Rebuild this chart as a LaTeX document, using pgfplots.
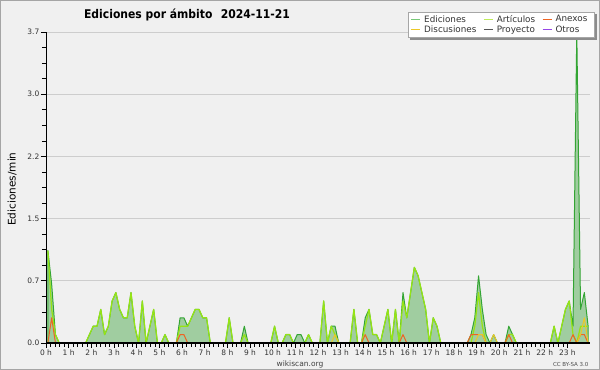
\documentclass[border=0pt]{standalone}
\usepackage{fontspec}
\setmainfont{DejaVu Sans}
\newfontfamily\titlefont{DejaVu Sans}[FakeStretch=0.9]
\usepackage{pgfplots}
\pgfplotsset{compat=1.18}
\usepackage{pgfplotstable}

\definecolor{bgc}{RGB}{240,240,240}
\definecolor{bordc}{RGB}{165,165,165}
\definecolor{gridc}{RGB}{205,205,205}
\definecolor{edline}{RGB}{51,165,51}
\definecolor{edleg}{RGB}{120,200,120}
\definecolor{edfill}{RGB}{160,205,160}
\definecolor{artc}{RGB}{150,228,20}
\definecolor{artleg}{RGB}{190,235,90}
\definecolor{anexc}{RGB}{238,100,35}
\definecolor{discc}{RGB}{236,200,40}
\definecolor{proyc}{RGB}{85,85,85}
\definecolor{otrosc}{RGB}{150,70,230}

\pgfplotstableread{
t E A N D
5 1.1 1.1 0 0
15 0.7 0.4 0.3 0
25 0.1 0.1 0 0
35 0 0 0 0
45 0 0 0 0
55 0 0 0 0
65 0 0 0 0
75 0 0 0 0
85 0 0 0 0
95 0 0 0 0
105 0 0 0 0
115 0.1 0.1 0 0
125 0.2 0.2 0 0
135 0.2 0.2 0 0
145 0.4 0.4 0 0
155 0.1 0.1 0 0
165 0.2 0.2 0 0
175 0.5 0.5 0 0
185 0.6 0.6 0 0
195 0.4 0.4 0 0
205 0.3 0.3 0 0
215 0.3 0.3 0 0
225 0.6 0.6 0 0
235 0.2 0.2 0 0
245 0 0 0 0
255 0.5 0.5 0 0
265 0 0 0 0
275 0.2 0.2 0 0
285 0.4 0.4 0 0
295 0 0 0 0
305 0 0 0 0
315 0.1 0.1 0 0
325 0 0 0 0
335 0 0 0 0
345 0 0 0 0
355 0.3 0.2 0.1 0
365 0.3 0.2 0.1 0
375 0.2 0.2 0 0
385 0.3 0.3 0 0
395 0.4 0.4 0 0
405 0.4 0.4 0 0
415 0.3 0.3 0 0
425 0.3 0.3 0 0
435 0 0 0 0
445 0 0 0 0
455 0 0 0 0
465 0 0 0 0
475 0 0 0 0
485 0.3 0.3 0 0
495 0 0 0 0
505 0 0 0 0
515 0 0 0 0
525 0.2 0.1 0 0
535 0 0 0 0
545 0 0 0 0
555 0 0 0 0
565 0 0 0 0
575 0 0 0 0
585 0 0 0 0
595 0 0 0 0
605 0.2 0.2 0 0
615 0 0 0 0
625 0 0 0 0
635 0.1 0.1 0 0
645 0.1 0.1 0 0
655 0 0 0 0
665 0.1 0 0 0
675 0.1 0 0 0
685 0 0 0 0
695 0.1 0.1 0 0
705 0 0 0 0
715 0 0 0 0
725 0 0 0 0
735 0.5 0.5 0 0
745 0 0 0 0
755 0.2 0.2 0 0
765 0.2 0.1 0 0.1
775 0 0 0 0
785 0 0 0 0
795 0 0 0 0
805 0 0 0 0
815 0.4 0.4 0 0
825 0 0 0 0
835 0 0 0 0
845 0.3 0.2 0.1 0
855 0.4 0.4 0 0
865 0.1 0.1 0 0
875 0.1 0.1 0 0
885 0 0 0 0
895 0.2 0.2 0 0
905 0.4 0.4 0 0
915 0 0 0 0
925 0.4 0.4 0 0
935 0 0 0 0
945 0.6 0.5 0.1 0
955 0.3 0.3 0 0
965 0.6 0.6 0 0
975 0.9 0.9 0 0
985 0.8 0.8 0 0
995 0.6 0.6 0 0
1005 0.4 0.4 0 0
1015 0 0 0 0
1025 0.3 0.3 0 0
1035 0.2 0.2 0 0
1045 0 0 0 0
1055 0 0 0 0
1065 0 0 0 0
1075 0 0 0 0
1085 0 0 0 0
1095 0 0 0 0
1105 0 0 0 0
1115 0 0 0 0
1125 0.1 0 0.1 0
1135 0.3 0.2 0.1 0
1145 0.8 0.6 0.1 0.1
1155 0.4 0.2 0.1 0.1
1165 0.1 0 0 0
1175 0 0 0 0
1185 0.1 0 0 0.1
1195 0 0 0 0
1205 0 0 0 0
1215 0 0 0 0
1225 0.2 0.1 0.1 0
1235 0.1 0.1 0 0
1245 0 0 0 0
1255 0 0 0 0
1265 0 0 0 0
1275 0 0 0 0
1285 0 0 0 0
1295 0 0 0 0
1305 0 0 0 0
1315 0 0 0 0
1325 0 0 0 0
1335 0 0 0 0
1345 0.2 0.2 0 0
1355 0 0 0 0
1365 0.2 0.2 0 0
1375 0.4 0.4 0 0
1385 0.5 0.5 0 0
1395 0.2 0.1 0.1 0
1405 3.7 0 0 0
1415 0.4 0.2 0.1 0.1
1425 0.6 0.2 0.1 0.3
1435 0.2 0.2 0 0
}\datatable

\begin{document}
\begin{tikzpicture}
\fill[bgc] (0,0) rectangle (600bp,370bp);
\draw[bordc, line width=1bp] (0.5bp,0.5bp) rectangle (599.5bp,369.5bp);
\begin{axis}[
  at={(46bp,27bp)}, anchor=south west,
  scale only axis, width=544bp, height=311bp,
  xmin=0, xmax=1440, ymin=0, ymax=3.7,
  clip=false,
  axis x line*=bottom, axis y line*=left,
  axis line style={black, line width=0.8bp, -},
  xtick={0,60,...,1380},
  xticklabels={0 h,1 h,2 h,3 h,4 h,5 h,6 h,7 h,8 h,9 h,10 h,11 h,12 h,13 h,14 h,15 h,16 h,17 h,18 h,19 h,20 h,21 h,22 h,23 h},
  minor x tick num=4,
  ytick={0,0.74,1.48,2.22,2.96,3.7},
  yticklabels={0.0,0.7,1.5,2.2,3.0,3.7},
  minor y tick num=3,
  tick align=outside,
  major tick length=5bp, minor tick length=4bp,
  tick style={black, line width=0.6bp},
  ymajorgrids, grid style={gridc, line width=0.8bp},
  /pgf/number format/assume math mode=true,
  ticklabel style={font=\fontsize{7.5bp}{8bp}\selectfont, text=black!80},
  yticklabel style={inner xsep=1.5bp},
  xticklabel style={inner ysep=1.5bp},
  ylabel={Ediciones/min},
  ylabel style={font=\fontsize{10.5bp}{12bp}\selectfont, at={(rel axis cs:-0.0625,0.495)}, anchor=center, rotate=0},
  legend columns=3,
  legend cell align=left,
  legend image code/.code={\draw[#1, line width=0.9bp] (0bp,0.5bp) -- (9bp,0.5bp);},
  legend style={name=leg, at={(1.0074,1.0643)}, anchor=north east, draw=gray!70, fill=white,
    font=\fontsize{8.8bp}{9bp}\selectfont, text=black!80, inner xsep=3bp, inner ysep=1bp,
    row sep=-1.5bp,
    nodes={inner xsep=3.5bp},
    /tikz/every even column/.append style={column sep=3.5bp}},
]
\addplot[draw=edline, fill=edfill, line width=1bp, line join=round, forget plot] table[x=t,y=E]{\datatable} \closedcycle;
\addplot[draw=artc, line width=1.2bp, line join=round, forget plot] table[x=t,y=A]{\datatable};
\addplot[draw=anexc, line width=1bp, line join=round, forget plot] table[x=t,y=N]{\datatable};
\addplot[draw=discc, line width=1bp, line join=round, forget plot] table[x=t,y=D]{\datatable};
\draw[black, line width=1.4bp] (axis cs:0,0) -- (axis cs:1440,0);
\addlegendimage{color=edleg}
\addlegendentry{Ediciones}
\addlegendimage{color=artleg}
\addlegendentry{Artículos}
\addlegendimage{color=anexc}
\addlegendentry{Anexos}
\addlegendimage{color=discc}
\addlegendentry{Discusiones}
\addlegendimage{color=proyc}
\addlegendentry{Proyecto}
\addlegendimage{color=otrosc}
\addlegendentry{Otros}
\end{axis}
\draw[gray!90, line width=2bp] ([xshift=1.5bp,yshift=-2.5bp]leg.north east) -- ([xshift=1.5bp,yshift=-1.5bp]leg.south east) -- ([xshift=2.5bp,yshift=-1.5bp]leg.south west);
\node[font=\titlefont\bfseries\fontsize{12bp}{14bp}\selectfont, anchor=base] at (187bp,351bp) {Ediciones por ámbito\hspace{0.7em}2024-11-21};
\node[font=\fontsize{7.5bp}{8bp}\selectfont, text=black!75, anchor=base] at (300bp,3.5bp) {wikiscan.org};
\node[font=\fontsize{5.5bp}{6bp}\selectfont, text=black!70, anchor=base east] at (592bp,3.5bp) {CC BY-SA 3.0};
\pgfresetboundingbox
\useasboundingbox (0,0) rectangle (600bp,370bp);
\end{tikzpicture}
\end{document}
